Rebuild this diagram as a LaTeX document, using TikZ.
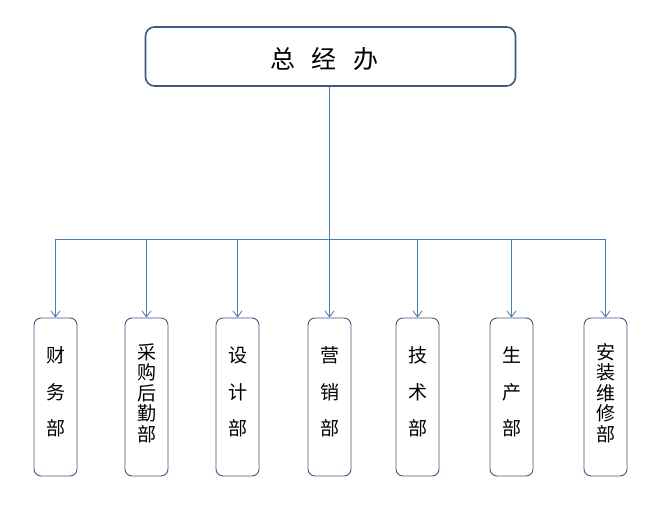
\documentclass[tikz,border=0pt]{standalone}
\usepackage{fontspec}
\setmainfont{Noto Sans CJK SC}
\usetikzlibrary{arrows.meta}
\definecolor{boxline}{HTML}{41597E}
\definecolor{conn}{HTML}{4F79AE}
\begin{document}
\begin{tikzpicture}[x=1pt,y=-1pt,
  topbox/.style={draw=boxline,line width=1.6pt,rounded corners=9pt,minimum width=370pt,minimum height=59pt,inner sep=0pt},
  toptext/.style={inner sep=0pt,font=\fontsize{25}{28}\selectfont},
  deptbox/.style={draw=boxline,line width=0.9pt,rounded corners=7pt,minimum width=43pt,minimum height=158pt,inner sep=0pt},
  depttext/.style={inner sep=0pt,align=center},
  spaced/.style={depttext,font=\fontsize{19}{36.5}\selectfont},
  tight/.style={depttext,font=\fontsize{19}{20.5}\selectfont},
  conn/.style={draw=conn,line width=0.8pt},
  arr/.style={conn,-{Straight Barb[length=6pt,width=9pt,line width=0.8pt]}}]
\useasboundingbox (0,0) rectangle (666,508);
\node[topbox] (top) at (330.5,56.5) {};
\node[toptext] (toplabel) at ([xshift=-6pt,yshift=-3pt]top.center) {总\hspace{0.65em}经\hspace{0.65em}办};
\node[deptbox] (d1) at (55.5,397) {};
\node[deptbox] (d2) at (146.5,397) {};
\node[deptbox] (d3) at (237.5,397) {};
\node[deptbox] (d4) at (329.5,397) {};
\node[deptbox] (d5) at (417.5,397) {};
\node[deptbox] (d6) at (511.5,397) {};
\node[deptbox] (d7) at (605.5,397) {};
\node[spaced] (t1) at ([yshift=5pt]d1.center) {财\\务\\部};
\node[tight]  (t2) at ([yshift=4pt]d2.center) {采\\购\\后\\勤\\部};
\node[spaced] (t3) at ([yshift=5pt]d3.center) {设\\计\\部};
\node[spaced] (t4) at ([yshift=5pt]d4.center) {营\\销\\部};
\node[spaced] (t5) at ([yshift=5pt]d5.center) {技\\术\\部};
\node[spaced] (t6) at ([yshift=5pt]d6.center) {生\\产\\部};
\node[tight]  (t7) at ([yshift=4pt]d7.center) {安\\装\\维\\修\\部};
\coordinate (busL) at (54.5,239);
\coordinate (busR) at (605.5,239);
\draw[conn] (top.south -| d4.north) -- (busL -| d4.north);
\draw[conn] (busL -| d1.north) -- (busR -| d7.north);
\foreach \d in {d1,d2,d3,d4,d5,d6,d7}
  \draw[arr] (busL -| \d.north) -- (\d.north);
\end{tikzpicture}
\end{document}
